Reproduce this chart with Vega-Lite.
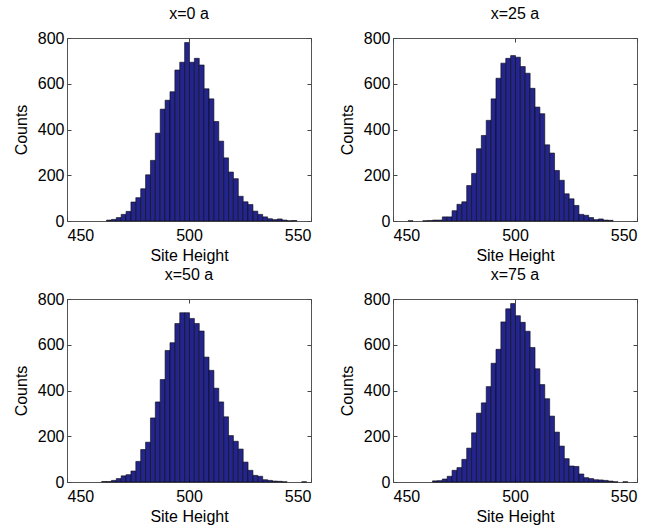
{
  "$schema": "https://vega.github.io/schema/vega-lite/v6.json",
  "padding": {"left": 12, "top": 5, "right": 4, "bottom": 2},
  "config": {
    "font": "Liberation Sans",
    "view": {"stroke": "#555555", "strokeWidth": 1},
    "bar": {"binSpacing": 0},
    "axis": {
      "grid": false, "domain": false,
      "labelFont": "Liberation Sans", "labelFontSize": 16, "labelColor": "#000000",
      "titleFont": "Liberation Sans", "titleFontSize": 16, "titleFontWeight": "normal", "titleColor": "#000000",
      "tickColor": "#444444", "tickSize": -4, "tickWidth": 1, "labelPadding": 7
    },
    "axisY": {"titlePadding": 8},
    "axisX": {"titlePadding": 4, "labelPadding": 10},
    "title": {"font": "Liberation Sans", "fontSize": 16, "fontWeight": "normal", "color": "#000000", "offset": 8}
  },
  "data": {"values": [
    {"p":"x=0 a","b":466,"e":468,"n":4},{"p":"x=0 a","b":468,"e":470,"n":7},{"p":"x=0 a","b":470,"e":472,"n":15},{"p":"x=0 a","b":472,"e":474,"n":29},
    {"p":"x=0 a","b":474,"e":476,"n":42},{"p":"x=0 a","b":476,"e":478,"n":83},{"p":"x=0 a","b":478,"e":480,"n":102},{"p":"x=0 a","b":480,"e":482,"n":141},
    {"p":"x=0 a","b":482,"e":484,"n":202},{"p":"x=0 a","b":484,"e":486,"n":265},{"p":"x=0 a","b":486,"e":488,"n":384},{"p":"x=0 a","b":488,"e":490,"n":489},
    {"p":"x=0 a","b":490,"e":492,"n":528},{"p":"x=0 a","b":492,"e":494,"n":565},{"p":"x=0 a","b":494,"e":496,"n":660},{"p":"x=0 a","b":496,"e":498,"n":694},
    {"p":"x=0 a","b":498,"e":500,"n":780},{"p":"x=0 a","b":500,"e":502,"n":694},{"p":"x=0 a","b":502,"e":504,"n":711},{"p":"x=0 a","b":504,"e":506,"n":682},
    {"p":"x=0 a","b":506,"e":508,"n":578},{"p":"x=0 a","b":508,"e":510,"n":534},{"p":"x=0 a","b":510,"e":512,"n":435},{"p":"x=0 a","b":512,"e":514,"n":349},
    {"p":"x=0 a","b":514,"e":516,"n":276},{"p":"x=0 a","b":516,"e":518,"n":214},{"p":"x=0 a","b":518,"e":520,"n":185},{"p":"x=0 a","b":520,"e":522,"n":108},
    {"p":"x=0 a","b":522,"e":524,"n":84},{"p":"x=0 a","b":524,"e":526,"n":72},{"p":"x=0 a","b":526,"e":528,"n":43},{"p":"x=0 a","b":528,"e":530,"n":29},
    {"p":"x=0 a","b":530,"e":532,"n":18},{"p":"x=0 a","b":532,"e":534,"n":10},{"p":"x=0 a","b":534,"e":536,"n":6},{"p":"x=0 a","b":536,"e":538,"n":9},
    {"p":"x=0 a","b":538,"e":540,"n":4},{"p":"x=0 a","b":540,"e":542,"n":1},{"p":"x=0 a","b":542,"e":544,"n":2},

    {"p":"x=25 a","b":456,"e":458,"n":1},{"p":"x=25 a","b":462,"e":464,"n":1},{"p":"x=25 a","b":464,"e":466,"n":2},{"p":"x=25 a","b":466,"e":468,"n":4},
    {"p":"x=25 a","b":468,"e":470,"n":4},{"p":"x=25 a","b":470,"e":472,"n":18},{"p":"x=25 a","b":472,"e":474,"n":18},{"p":"x=25 a","b":474,"e":476,"n":45},
    {"p":"x=25 a","b":476,"e":478,"n":73},{"p":"x=25 a","b":478,"e":480,"n":84},{"p":"x=25 a","b":480,"e":482,"n":155},{"p":"x=25 a","b":482,"e":484,"n":208},
    {"p":"x=25 a","b":484,"e":486,"n":316},{"p":"x=25 a","b":486,"e":488,"n":374},{"p":"x=25 a","b":488,"e":490,"n":440},{"p":"x=25 a","b":490,"e":492,"n":534},
    {"p":"x=25 a","b":492,"e":494,"n":624},{"p":"x=25 a","b":494,"e":496,"n":690},{"p":"x=25 a","b":496,"e":498,"n":711},{"p":"x=25 a","b":498,"e":500,"n":723},
    {"p":"x=25 a","b":500,"e":502,"n":716},{"p":"x=25 a","b":502,"e":504,"n":675},{"p":"x=25 a","b":504,"e":506,"n":646},{"p":"x=25 a","b":506,"e":508,"n":580},
    {"p":"x=25 a","b":508,"e":510,"n":498},{"p":"x=25 a","b":510,"e":512,"n":469},{"p":"x=25 a","b":512,"e":514,"n":333},{"p":"x=25 a","b":514,"e":516,"n":297},
    {"p":"x=25 a","b":516,"e":518,"n":221},{"p":"x=25 a","b":518,"e":520,"n":178},{"p":"x=25 a","b":520,"e":522,"n":119},{"p":"x=25 a","b":522,"e":524,"n":97},
    {"p":"x=25 a","b":524,"e":526,"n":68},{"p":"x=25 a","b":526,"e":528,"n":29},{"p":"x=25 a","b":528,"e":530,"n":25},{"p":"x=25 a","b":530,"e":532,"n":15},
    {"p":"x=25 a","b":532,"e":534,"n":6},{"p":"x=25 a","b":534,"e":536,"n":9},{"p":"x=25 a","b":536,"e":538,"n":4},{"p":"x=25 a","b":538,"e":540,"n":3},

    {"p":"x=50 a","b":464,"e":466,"n":2},{"p":"x=50 a","b":466,"e":468,"n":2},{"p":"x=50 a","b":468,"e":470,"n":7},{"p":"x=50 a","b":470,"e":472,"n":15},
    {"p":"x=50 a","b":472,"e":474,"n":27},{"p":"x=50 a","b":474,"e":476,"n":32},{"p":"x=50 a","b":476,"e":478,"n":48},{"p":"x=50 a","b":478,"e":480,"n":90},
    {"p":"x=50 a","b":480,"e":482,"n":142},{"p":"x=50 a","b":482,"e":484,"n":174},{"p":"x=50 a","b":484,"e":486,"n":280},{"p":"x=50 a","b":486,"e":488,"n":350},
    {"p":"x=50 a","b":488,"e":490,"n":448},{"p":"x=50 a","b":490,"e":492,"n":575},{"p":"x=50 a","b":492,"e":494,"n":609},{"p":"x=50 a","b":494,"e":496,"n":693},
    {"p":"x=50 a","b":496,"e":498,"n":740},{"p":"x=50 a","b":498,"e":500,"n":740},{"p":"x=50 a","b":500,"e":502,"n":715},{"p":"x=50 a","b":502,"e":504,"n":693},
    {"p":"x=50 a","b":504,"e":506,"n":660},{"p":"x=50 a","b":506,"e":508,"n":546},{"p":"x=50 a","b":508,"e":510,"n":488},{"p":"x=50 a","b":510,"e":512,"n":410},
    {"p":"x=50 a","b":512,"e":514,"n":350},{"p":"x=50 a","b":514,"e":516,"n":285},{"p":"x=50 a","b":516,"e":518,"n":203},{"p":"x=50 a","b":518,"e":520,"n":178},
    {"p":"x=50 a","b":520,"e":522,"n":144},{"p":"x=50 a","b":522,"e":524,"n":87},{"p":"x=50 a","b":524,"e":526,"n":51},{"p":"x=50 a","b":526,"e":528,"n":29},
    {"p":"x=50 a","b":528,"e":530,"n":25},{"p":"x=50 a","b":530,"e":532,"n":10},{"p":"x=50 a","b":532,"e":534,"n":7},{"p":"x=50 a","b":534,"e":536,"n":4},
    {"p":"x=50 a","b":536,"e":538,"n":3},{"p":"x=50 a","b":538,"e":540,"n":1},{"p":"x=50 a","b":546,"e":548,"n":1},

    {"p":"x=75 a","b":466,"e":468,"n":5},{"p":"x=75 a","b":468,"e":470,"n":6},{"p":"x=75 a","b":470,"e":472,"n":13},{"p":"x=75 a","b":472,"e":474,"n":25},
    {"p":"x=75 a","b":474,"e":476,"n":51},{"p":"x=75 a","b":476,"e":478,"n":63},{"p":"x=75 a","b":478,"e":480,"n":99},{"p":"x=75 a","b":480,"e":482,"n":148},
    {"p":"x=75 a","b":482,"e":484,"n":215},{"p":"x=75 a","b":484,"e":486,"n":301},{"p":"x=75 a","b":486,"e":488,"n":346},{"p":"x=75 a","b":488,"e":490,"n":417},
    {"p":"x=75 a","b":490,"e":492,"n":519},{"p":"x=75 a","b":492,"e":494,"n":580},{"p":"x=75 a","b":494,"e":496,"n":700},{"p":"x=75 a","b":496,"e":498,"n":757},
    {"p":"x=75 a","b":498,"e":500,"n":780},{"p":"x=75 a","b":500,"e":502,"n":727},{"p":"x=75 a","b":502,"e":504,"n":698},{"p":"x=75 a","b":504,"e":506,"n":659},
    {"p":"x=75 a","b":506,"e":508,"n":588},{"p":"x=75 a","b":508,"e":510,"n":495},{"p":"x=75 a","b":510,"e":512,"n":426},{"p":"x=75 a","b":512,"e":514,"n":364},
    {"p":"x=75 a","b":514,"e":516,"n":288},{"p":"x=75 a","b":516,"e":518,"n":218},{"p":"x=75 a","b":518,"e":520,"n":157},{"p":"x=75 a","b":520,"e":522,"n":102},
    {"p":"x=75 a","b":522,"e":524,"n":70},{"p":"x=75 a","b":524,"e":526,"n":68},{"p":"x=75 a","b":526,"e":528,"n":35},{"p":"x=75 a","b":528,"e":530,"n":19},
    {"p":"x=75 a","b":530,"e":532,"n":15},{"p":"x=75 a","b":532,"e":534,"n":10},{"p":"x=75 a","b":534,"e":536,"n":9},{"p":"x=75 a","b":536,"e":538,"n":7},
    {"p":"x=75 a","b":538,"e":540,"n":4},{"p":"x=75 a","b":540,"e":542,"n":1},{"p":"x=75 a","b":544,"e":546,"n":1}
  ]},
  "bounds": "flush",
  "columns": 2,
  "spacing": {"row": 78, "column": 82},
  "concat": [
    {
      "title": "x=0 a", "width": 244, "height": 183,
      "transform": [{"filter": "datum.p == 'x=0 a'"}],
      "layer": [
        {"mark": {"type": "bar", "fill": "#23248c", "stroke": "#0a0a0a", "strokeWidth": 0.6},
         "encoding": {
           "x": {"field": "b", "bin": "binned", "type": "quantitative", "scale": {"domain": [450, 550]}, "axis": {"values": [450, 500, 550], "title": "Site Height"}},
           "x2": {"field": "e"},
           "y": {"field": "n", "type": "quantitative", "scale": {"domain": [0, 800]}, "axis": {"values": [0, 200, 400, 600, 800], "title": "Counts"}}
         }},
        {"mark": {"type": "bar", "opacity": 0},
         "encoding": {
           "x": {"field": "b", "bin": "binned", "type": "quantitative", "axis": {"orient": "top", "values": [450, 500, 550], "labels": false, "title": null}},
           "x2": {"field": "e"},
           "y": {"field": "n", "type": "quantitative", "axis": {"orient": "right", "values": [0, 200, 400, 600, 800], "labels": false, "title": null}}
         }}
      ],
      "resolve": {"axis": {"x": "independent", "y": "independent"}}
    },
    {
      "title": "x=25 a", "width": 244, "height": 183,
      "transform": [{"filter": "datum.p == 'x=25 a'"}],
      "layer": [
        {"mark": {"type": "bar", "fill": "#23248c", "stroke": "#0a0a0a", "strokeWidth": 0.6},
         "encoding": {
           "x": {"field": "b", "bin": "binned", "type": "quantitative", "scale": {"domain": [450, 550]}, "axis": {"values": [450, 500, 550], "title": "Site Height"}},
           "x2": {"field": "e"},
           "y": {"field": "n", "type": "quantitative", "scale": {"domain": [0, 800]}, "axis": {"values": [0, 200, 400, 600, 800], "title": "Counts"}}
         }},
        {"mark": {"type": "bar", "opacity": 0},
         "encoding": {
           "x": {"field": "b", "bin": "binned", "type": "quantitative", "axis": {"orient": "top", "values": [450, 500, 550], "labels": false, "title": null}},
           "x2": {"field": "e"},
           "y": {"field": "n", "type": "quantitative", "axis": {"orient": "right", "values": [0, 200, 400, 600, 800], "labels": false, "title": null}}
         }}
      ],
      "resolve": {"axis": {"x": "independent", "y": "independent"}}
    },
    {
      "title": "x=50 a", "width": 244, "height": 183,
      "transform": [{"filter": "datum.p == 'x=50 a'"}],
      "layer": [
        {"mark": {"type": "bar", "fill": "#23248c", "stroke": "#0a0a0a", "strokeWidth": 0.6},
         "encoding": {
           "x": {"field": "b", "bin": "binned", "type": "quantitative", "scale": {"domain": [450, 550]}, "axis": {"values": [450, 500, 550], "title": "Site Height"}},
           "x2": {"field": "e"},
           "y": {"field": "n", "type": "quantitative", "scale": {"domain": [0, 800]}, "axis": {"values": [0, 200, 400, 600, 800], "title": "Counts"}}
         }},
        {"mark": {"type": "bar", "opacity": 0},
         "encoding": {
           "x": {"field": "b", "bin": "binned", "type": "quantitative", "axis": {"orient": "top", "values": [450, 500, 550], "labels": false, "title": null}},
           "x2": {"field": "e"},
           "y": {"field": "n", "type": "quantitative", "axis": {"orient": "right", "values": [0, 200, 400, 600, 800], "labels": false, "title": null}}
         }}
      ],
      "resolve": {"axis": {"x": "independent", "y": "independent"}}
    },
    {
      "title": "x=75 a", "width": 244, "height": 183,
      "transform": [{"filter": "datum.p == 'x=75 a'"}],
      "layer": [
        {"mark": {"type": "bar", "fill": "#23248c", "stroke": "#0a0a0a", "strokeWidth": 0.6},
         "encoding": {
           "x": {"field": "b", "bin": "binned", "type": "quantitative", "scale": {"domain": [450, 550]}, "axis": {"values": [450, 500, 550], "title": "Site Height"}},
           "x2": {"field": "e"},
           "y": {"field": "n", "type": "quantitative", "scale": {"domain": [0, 800]}, "axis": {"values": [0, 200, 400, 600, 800], "title": "Counts"}}
         }},
        {"mark": {"type": "bar", "opacity": 0},
         "encoding": {
           "x": {"field": "b", "bin": "binned", "type": "quantitative", "axis": {"orient": "top", "values": [450, 500, 550], "labels": false, "title": null}},
           "x2": {"field": "e"},
           "y": {"field": "n", "type": "quantitative", "axis": {"orient": "right", "values": [0, 200, 400, 600, 800], "labels": false, "title": null}}
         }}
      ],
      "resolve": {"axis": {"x": "independent", "y": "independent"}}
    }
  ]
}
